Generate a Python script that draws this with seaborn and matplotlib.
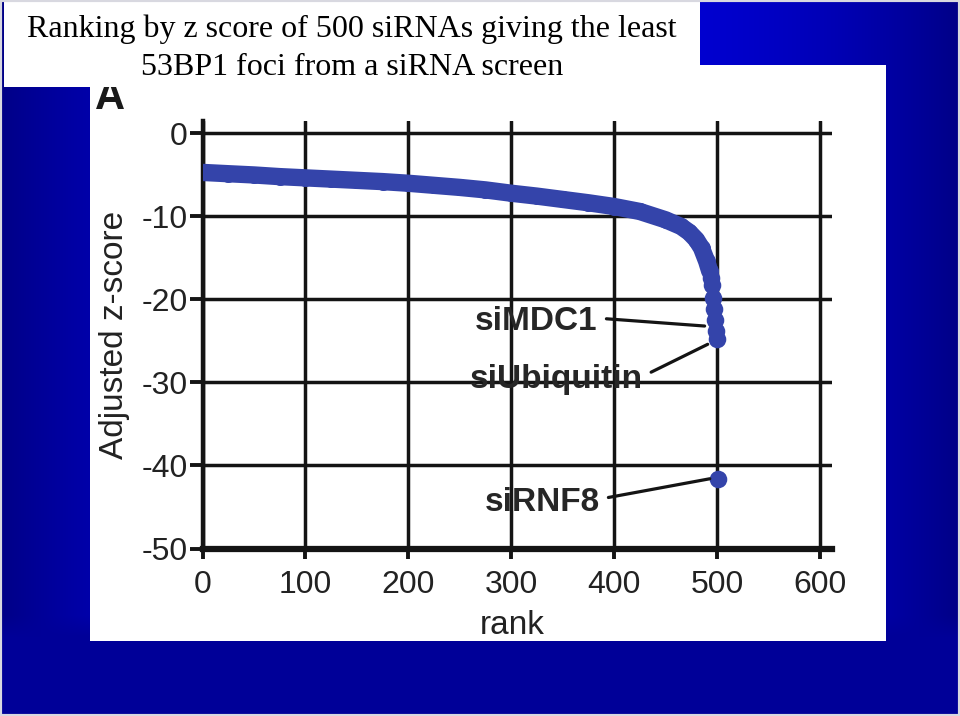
import numpy as np
import pandas as pd
import matplotlib
matplotlib.use("Agg")
import matplotlib.pyplot as plt
import seaborn as sns
from matplotlib.patches import Rectangle

# ---------------- data ----------------
rank = [1, 25, 50, 75, 100, 125, 150, 175, 200, 225, 250, 275, 300, 325,
        350, 375, 400, 425, 450, 465, 473, 480, 485, 490, 493]
zscore = [-4.7, -4.85, -5.0, -5.2, -5.35, -5.5, -5.65, -5.8, -6.0, -6.25,
          -6.5, -6.8, -7.2, -7.55, -7.95, -8.35, -8.8, -9.4, -10.4, -11.2,
          -11.9, -12.8, -13.8, -15.4, -16.6]
tail_rank = [494, 495, 496, 497, 498, 499, 500, 501]
tail_z = [-17.4, -18.3, -19.8, -21.2, -22.5, -23.8, -24.8, -41.6]

label_text = ["siMDC1", "siUbiquitin", "siRNF8"]
label_target_x = [488, 491, 493]
label_target_y = [-23.2, -25.4, -41.6]
label_text_x = [384, 428, 386]
label_text_y = [-22.2, -29.2, -44.0]

x_ticks = [0, 100, 200, 300, 400, 500, 600]
y_ticks = [0, -10, -20, -30, -40, -50]

title_lines = ["Ranking by z score of 500 siRNAs giving the least",
               "53BP1 foci from a siRNA screen"]

main_df = pd.DataFrame({"rank": rank, "z": zscore})
tail_df = pd.DataFrame({"rank": tail_rank, "z": tail_z})

# ---------------- style ----------------
sns.set_theme(style="white")
plt.rcParams['font.family'] = ['Liberation Sans', 'DejaVu Sans']
plt.rcParams['axes.unicode_minus'] = False

W, H = 960, 716
fig = plt.figure(figsize=(9.6, 7.16), dpi=100)

# background blue gradient
bg = fig.add_axes([0, 0, 1, 1], zorder=-10)
u = np.linspace(0, 1, W)[None, :]
v = np.linspace(0, 1, H)[:, None]
h = 1 - np.abs(2 * u - 1) ** 2.5
blue_top = 135 + 85 * h
w = np.clip((v - 0.86) / 0.03, 0, 1)
blue = blue_top * (1 - w) + 152 * w
img = np.zeros((H, W, 3))
img[..., 2] = blue / 255.0
bg.imshow(img, aspect='auto', extent=[0, 1, 0, 1], origin='upper')
bg.set_axis_off()

# white chart panel
fig.add_artist(Rectangle((90 / W, 1 - 641 / H), 796 / W, 576 / H,
                         transform=fig.transFigure, facecolor='white',
                         edgecolor='none', zorder=-5))
# light border
fig.add_artist(Rectangle((0, 0), 1, 1, transform=fig.transFigure, fill=False,
                         edgecolor='#d8d8e0', lw=3, zorder=5))

# ---------------- chart ----------------
x0px, x1px = 202.5, 832.2
ytop, ybot = 121.0, 548.5
ax = fig.add_axes([x0px / W, 1 - ybot / H, (x1px - x0px) / W, (ybot - ytop) / H])
ax.set_facecolor('white')

dot_color = "#3444aa"
sns.lineplot(data=main_df, x="rank", y="z", ax=ax, color=dot_color, lw=12.5,
             solid_capstyle='round', zorder=3)
sns.scatterplot(data=main_df, x="rank", y="z", ax=ax, color=dot_color, s=150,
                linewidth=0, zorder=3)
sns.scatterplot(data=tail_df, x="rank", y="z", ax=ax, color=dot_color, s=160,
                linewidth=0, zorder=3)

ax.set_xlim(0, 612)
ax.set_ylim(-50, 1.5)
ax.set_xticks(x_ticks)
ax.set_yticks(y_ticks)
ax.set_xticklabels([str(t) for t in x_ticks])
ax.set_yticklabels([str(t) for t in y_ticks])
ax.grid(True, color='#141414', lw=2.5, zorder=1)
ax.set_axisbelow(True)
for s in ['top', 'right']:
    ax.spines[s].set_visible(False)
ax.spines['left'].set_linewidth(3.2)
ax.spines['bottom'].set_linewidth(4.5)
ax.spines['left'].set_color('#141414')
ax.spines['bottom'].set_color('#141414')

ax.tick_params(axis='y', direction='out', length=9.5, width=2.8, color='#141414',
               labelsize=23, pad=1, labelcolor='#222222', left=True)
ax.tick_params(axis='x', direction='out', length=7.5, width=2.8, color='#141414',
               labelsize=23, pad=8, labelcolor='#222222', bottom=True)

ax.set_xlabel("rank", fontsize=24, color='#222222')
ax.set_ylabel("Adjusted z-score", fontsize=24, color='#222222')
ax.xaxis.set_label_coords((512 - x0px) / (x1px - x0px), (ybot - 610) / (ybot - ytop))
ax.yaxis.set_label_coords((130 - x0px) / (x1px - x0px), (ybot - 335) / (ybot - ytop))

for t, tx, ty, px, py in zip(label_text, label_text_x, label_text_y,
                             label_target_x, label_target_y):
    ax.annotate(t, xy=(px, py), xytext=(tx, ty), ha='right', va='center_baseline',
                fontsize=24, fontweight='bold', color='#262626', zorder=6,
                arrowprops=dict(arrowstyle='-', color='#141414', lw=2.3,
                                shrinkA=4, shrinkB=0, relpos=(1, 0.6)))

# panel letter (partly hidden by the title box)
fig.text(95 / W, 1 - 109 / H, "A", ha='left', va='baseline', fontsize=30,
         fontweight='bold', color='#1a1a1a', zorder=1)

# title box
fig.add_artist(Rectangle((4 / W, 1 - 87 / H), 696 / W, 87 / H,
                         transform=fig.transFigure, facecolor='white',
                         edgecolor='none', zorder=2))
fig.text(352 / W, 1 - 37 / H, title_lines[0], ha='center', va='baseline',
         fontsize=23, family=['Liberation Serif', 'DejaVu Serif'], color='black', zorder=3)
fig.text(352 / W, 1 - 75 / H, title_lines[1], ha='center', va='baseline',
         fontsize=23, family=['Liberation Serif', 'DejaVu Serif'], color='black', zorder=3)

fig.savefig("out.png", dpi=100)
